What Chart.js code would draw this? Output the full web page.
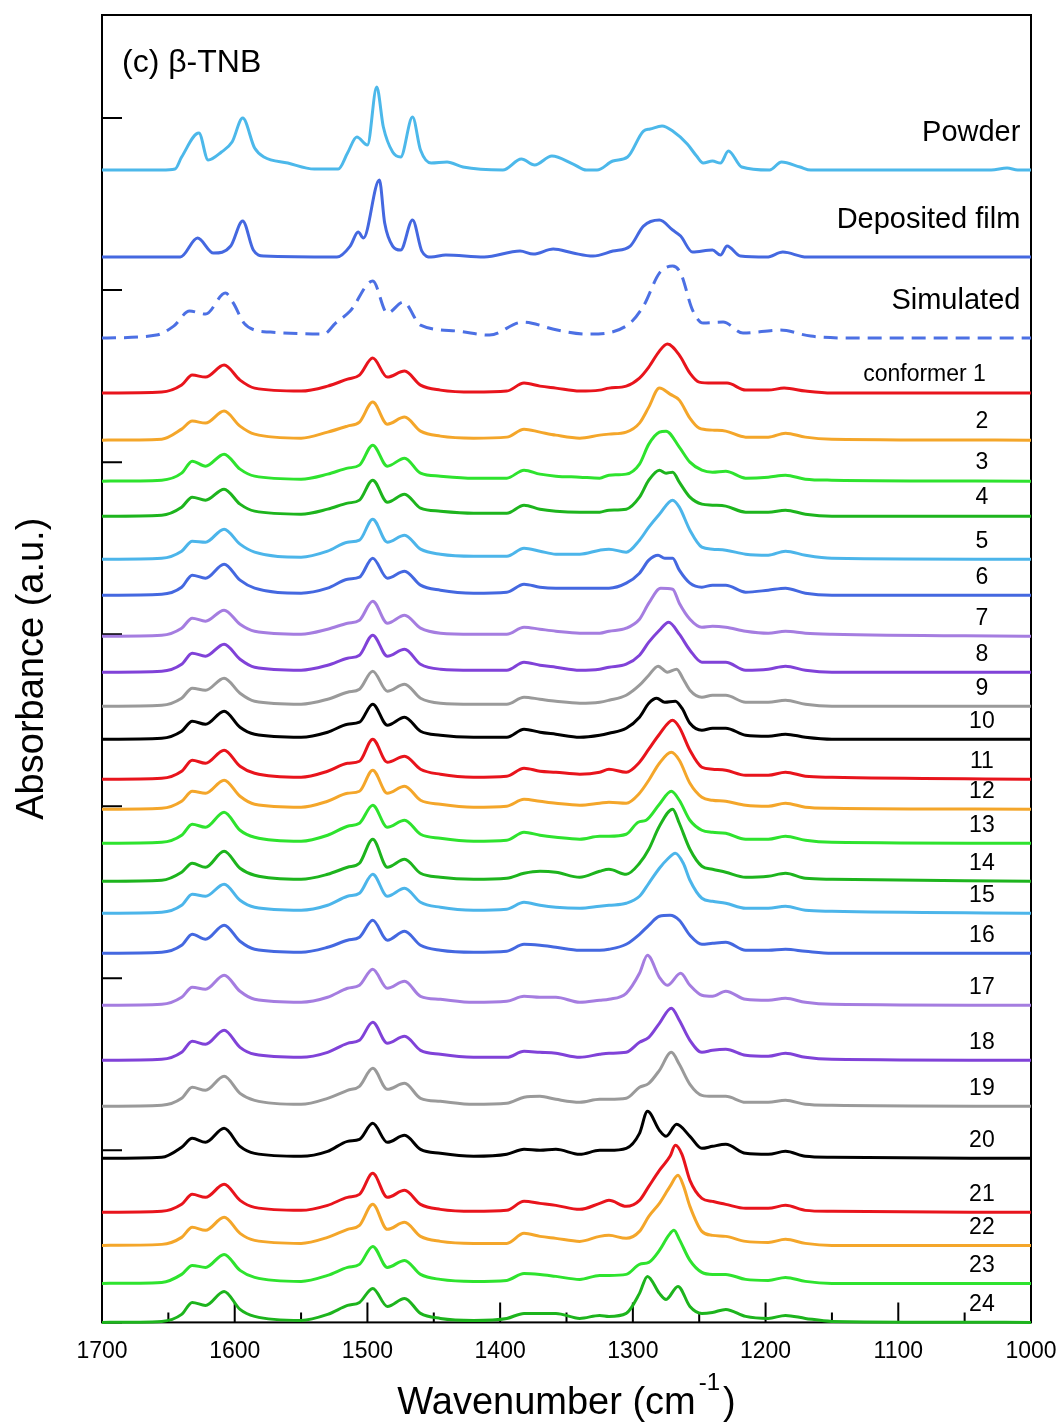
<!DOCTYPE html>
<html>
<head>
<meta charset="utf-8">
<script src="https://cdn.jsdelivr.net/npm/chart.js@4.4.1/dist/chart.umd.min.js"></script>
<style>
  html, body { margin: 0; padding: 0; background: #fff; }
</style>
</head>
<body>
<canvas id="myChart" width="1062" height="1425"></canvas>
<script>
// wavenumbers (cm-1) shared by the left half of every conformer trace
const leftWn = [1700, 1655, 1640, 1632, 1622, 1608, 1596, 1585, 1550, 1530, 1515, 1506, 1496, 1485, 1472, 1460, 1445, 1420, 1395, 1382, 1370, 1358, 1340];

// absorbance at leftWn, one row per conformer (a.u.)
const conformerLeft = [
  [0, 1, 8, 18, 16, 28, 13, 5, 2, 7, 14, 18, 35, 16, 22, 8, 3, 1, 2, 10, 7, 5, 2],
  [0, 1, 11, 19, 17, 29, 14, 6, 2, 8, 14, 18, 38, 16, 23, 9, 4, 2, 3, 11, 8, 5, 2],
  [0, 1, 8, 20, 15, 27, 12, 5, 2, 7, 13, 16, 36, 15, 23, 8, 5, 3, 3, 11, 7, 5, 4],
  [0, 1, 9, 19, 16, 27, 12, 5, 2, 7, 13, 16, 36, 14, 22, 8, 5, 3, 3, 11, 7, 5, 4],
  [0, 1, 8, 18, 17, 30, 15, 7, 2, 8, 17, 19, 40, 17, 24, 10, 5, 3, 3, 11, 8, 5, 5],
  [0, 1, 8, 20, 17, 31, 15, 7, 2, 7, 16, 18, 37, 17, 24, 10, 5, 2, 3, 11, 8, 7, 7],
  [0, 1, 8, 18, 15, 26, 12, 5, 2, 7, 13, 16, 35, 13, 21, 8, 3, 2, 2, 9, 7, 5, 3],
  [0, 1, 8, 19, 16, 28, 13, 5, 2, 7, 14, 17, 37, 16, 23, 8, 3, 2, 2, 10, 7, 5, 2],
  [0, 1, 8, 18, 16, 28, 13, 5, 2, 7, 14, 17, 35, 15, 22, 8, 3, 2, 2, 9, 7, 5, 3],
  [0, 1, 8, 18, 15, 28, 12, 5, 2, 7, 15, 17, 35, 14, 22, 8, 4, 2, 2, 10, 7, 5, 2],
  [0, 1, 8, 19, 16, 29, 13, 6, 2, 8, 16, 18, 40, 17, 23, 10, 5, 2, 3, 11, 8, 7, 5],
  [0, 1, 8, 18, 16, 29, 13, 5, 2, 8, 16, 18, 39, 16, 23, 9, 5, 2, 3, 10, 8, 6, 4],
  [0, 1, 8, 19, 16, 31, 13, 6, 2, 8, 17, 20, 38, 16, 23, 9, 5, 2, 3, 11, 8, 6, 4],
  [0, 1, 9, 18, 14, 30, 13, 6, 2, 7, 14, 18, 42, 14, 22, 8, 4, 2, 3, 8, 10, 9, 4],
  [0, 1, 8, 19, 17, 29, 13, 6, 3, 8, 17, 20, 39, 17, 25, 11, 6, 3, 4, 11, 8, 6, 5],
  [0, 1, 8, 19, 14, 28, 12, 4, 1, 6, 13, 16, 33, 13, 22, 8, 3, 1, 2, 9, 8, 6, 3],
  [0, 1, 8, 18, 16, 30, 14, 6, 3, 8, 17, 20, 36, 17, 24, 9, 6, 3, 4, 9, 8, 8, 3],
  [0, 1, 8, 19, 16, 30, 13, 6, 3, 8, 17, 20, 38, 17, 24, 10, 6, 3, 3, 9, 8, 7, 3],
  [0, 1, 8, 19, 16, 30, 13, 6, 2, 8, 16, 20, 38, 17, 23, 8, 5, 2, 3, 9, 10, 7, 4],
  [0, 1, 11, 20, 16, 30, 12, 5, 2, 7, 17, 19, 35, 16, 23, 9, 5, 2, 4, 9, 8, 9, 4],
  [0, 1, 8, 18, 15, 28, 12, 5, 2, 7, 15, 18, 39, 15, 22, 8, 3, 1, 2, 11, 9, 7, 3],
  [0, 1, 8, 18, 15, 28, 12, 5, 2, 8, 16, 20, 41, 16, 23, 9, 4, 2, 2, 12, 9, 7, 4],
  [0, 1, 9, 18, 16, 29, 13, 6, 2, 8, 16, 19, 37, 16, 23, 9, 4, 2, 3, 10, 9, 7, 4],
  [0, 1, 8, 20, 17, 31, 13, 6, 2, 8, 17, 20, 34, 16, 24, 9, 4, 2, 4, 9, 9, 9, 4]
];

// [wavenumber, absorbance] for the right half, one row per conformer
const conformerRight = [
  [[1325,3],[1318,5],[1305,7],[1295,15],[1288,26],[1280,42],[1274,49],[1265,38],[1257,20],[1250,11],[1240,10],[1229,10],[1215,3],[1198,3],[1186,5],[1170,2],[1150,0],[1000,0]],
  [[1325,5],[1318,6],[1305,8],[1295,17],[1288,33],[1280,52],[1272,46],[1265,40],[1257,22],[1250,12],[1240,10],[1230,9],[1215,3],[1198,3],[1185,7],[1170,3],[1150,1],[1000,0]],
  [[1325,3],[1318,6],[1305,7],[1295,17],[1288,37],[1280,49],[1275,50],[1265,34],[1257,19],[1248,11],[1240,9],[1230,10],[1215,3],[1198,4],[1185,6],[1170,2],[1150,1],[1000,0]],
  [[1325,4],[1318,6],[1305,7],[1295,19],[1288,36],[1280,46],[1275,43],[1270,44],[1265,34],[1257,19],[1248,12],[1240,11],[1230,10],[1215,4],[1198,4],[1185,6],[1170,2],[1150,0],[1000,0]],
  [[1325,9],[1318,10],[1305,7],[1295,19],[1288,32],[1280,45],[1270,59],[1265,52],[1257,29],[1248,12],[1240,10],[1230,9],[1215,5],[1198,4],[1185,8],[1170,4],[1150,1],[1000,0]],
  [[1325,7],[1318,7],[1305,12],[1295,22],[1288,35],[1281,40],[1276,37],[1270,37],[1265,25],[1257,12],[1248,8],[1240,10],[1230,10],[1215,3],[1198,5],[1185,7],[1170,2],[1150,0],[1000,0]],
  [[1325,3],[1318,5],[1305,8],[1295,17],[1288,33],[1279,48],[1270,47],[1265,33],[1257,17],[1248,9],[1240,10],[1230,9],[1215,5],[1198,3],[1185,5],[1170,3],[1150,2],[1000,0]],
  [[1325,3],[1318,5],[1305,8],[1295,17],[1288,30],[1280,42],[1273,50],[1265,38],[1257,22],[1248,10],[1240,10],[1230,10],[1215,2],[1198,3],[1185,6],[1170,2],[1150,0],[1000,0]],
  [[1325,4],[1318,6],[1305,11],[1295,21],[1288,31],[1281,40],[1274,34],[1267,37],[1262,27],[1257,16],[1248,9],[1240,11],[1230,11],[1215,4],[1198,4],[1185,6],[1170,2],[1150,0],[1000,0]],
  [[1325,4],[1318,6],[1305,11],[1295,22],[1288,36],[1282,41],[1276,37],[1268,38],[1263,31],[1257,16],[1248,9],[1240,11],[1230,11],[1215,4],[1198,3],[1185,5],[1170,2],[1150,0],[1000,0]],
  [[1325,7],[1318,10],[1305,7],[1295,17],[1288,30],[1280,45],[1270,59],[1265,52],[1257,29],[1248,12],[1240,10],[1230,9],[1215,4],[1198,4],[1185,7],[1170,3],[1150,2],[1000,0]],
  [[1325,6],[1318,7],[1305,6],[1295,16],[1288,29],[1280,46],[1271,57],[1265,49],[1257,26],[1248,12],[1240,9],[1230,8],[1215,4],[1198,3],[1185,6],[1170,2],[1150,1],[1000,0]],
  [[1325,7],[1318,7],[1305,9],[1296,21],[1290,23],[1280,39],[1271,52],[1265,43],[1257,23],[1248,13],[1240,11],[1230,10],[1215,4],[1198,4],[1185,7],[1170,3],[1150,1],[1000,0]],
  [[1325,10],[1318,12],[1305,7],[1295,18],[1288,32],[1280,55],[1270,72],[1265,58],[1257,32],[1248,15],[1240,12],[1230,9],[1215,4],[1198,5],[1185,8],[1170,3],[1150,2],[1000,0]],
  [[1325,7],[1318,8],[1305,10],[1295,17],[1288,30],[1280,45],[1274,54],[1268,60],[1262,50],[1257,33],[1248,15],[1240,12],[1230,10],[1215,5],[1198,5],[1185,7],[1170,3],[1150,2],[1000,0]],
  [[1325,3],[1318,4],[1305,9],[1295,19],[1288,28],[1280,37],[1272,38],[1265,33],[1257,18],[1248,9],[1240,10],[1230,11],[1215,3],[1198,3],[1185,4],[1170,2],[1150,0],[1000,0]],
  [[1325,5],[1318,6],[1305,12],[1295,32],[1289,50],[1280,28],[1274,20],[1264,32],[1257,20],[1248,10],[1240,9],[1230,14],[1215,6],[1198,5],[1185,7],[1170,3],[1150,1],[1000,0]],
  [[1325,6],[1318,7],[1305,8],[1295,18],[1288,23],[1280,37],[1271,52],[1265,40],[1257,20],[1248,8],[1240,10],[1230,11],[1215,5],[1198,4],[1185,7],[1170,3],[1150,1],[1000,0]],
  [[1325,7],[1318,7],[1305,8],[1295,19],[1288,23],[1280,36],[1271,54],[1265,42],[1257,22],[1248,11],[1240,10],[1230,10],[1215,4],[1198,4],[1185,6],[1170,2],[1150,1],[1000,0]],
  [[1325,8],[1318,8],[1305,10],[1295,25],[1289,47],[1280,28],[1275,22],[1267,34],[1257,22],[1248,10],[1240,12],[1230,14],[1215,5],[1198,4],[1185,7],[1170,2],[1150,1],[1000,0]],
  [[1325,9],[1318,12],[1305,6],[1295,12],[1288,26],[1280,42],[1272,56],[1268,67],[1263,58],[1257,32],[1248,14],[1240,11],[1230,8],[1215,4],[1198,4],[1185,7],[1170,2],[1150,1],[1000,0]],
  [[1325,9],[1318,10],[1305,7],[1295,14],[1288,29],[1280,42],[1272,59],[1266,70],[1262,60],[1257,39],[1248,14],[1240,10],[1230,9],[1215,4],[1198,3],[1185,6],[1170,2],[1150,0],[1000,0]],
  [[1325,8],[1318,8],[1305,9],[1295,19],[1288,21],[1280,33],[1273,48],[1269,53],[1265,44],[1257,23],[1248,11],[1240,9],[1230,9],[1215,4],[1198,3],[1185,6],[1170,2],[1150,0],[1000,0]],
  [[1325,7],[1318,6],[1305,9],[1295,29],[1289,46],[1280,29],[1275,23],[1266,36],[1257,16],[1248,9],[1240,10],[1230,13],[1215,6],[1198,4],[1185,7],[1170,4],[1150,1],[1000,0]]
];

// measured spectra, [wavenumber, absorbance]
const powder = [[1700,0],[1655,0],[1645,1],[1640,13],[1627,37],[1620,10],[1610,18],[1602,28],[1594,52],[1585,22],[1578,13],[1560,7],[1540,1],[1522,1],[1515,17],[1508,33],[1500,25],[1493,83],[1488,43],[1481,18],[1475,13],[1466,53],[1460,20],[1452,7],[1440,8],[1428,3],[1398,0],[1384,11],[1374,5],[1361,14],[1345,6],[1335,0],[1327,0],[1315,9],[1304,13],[1292,39],[1287,41],[1278,44],[1270,39],[1259,26],[1252,14],[1247,7],[1240,9],[1234,7],[1228,19],[1218,3],[1197,0],[1188,8],[1174,3],[1166,0],[1030,0],[1018,2],[1010,0],[1000,0]];
const depositedFilm = [[1700,0],[1641,0],[1628,19],[1616,4],[1603,11],[1594,36],[1586,7],[1578,1],[1523,0],[1513,11],[1507,25],[1503,19],[1491,77],[1487,34],[1481,11],[1475,7],[1466,37],[1459,6],[1452,0],[1441,2],[1412,0],[1385,6],[1375,3],[1360,8],[1345,4],[1330,1],[1315,6],[1302,11],[1292,31],[1280,37],[1270,27],[1264,21],[1255,5],[1240,7],[1234,2],[1229,11],[1219,1],[1199,0],[1187,5],[1169,0],[1000,0]];
const simulated = [[1700,0],[1659,3],[1646,12],[1634,27],[1622,24],[1607,45],[1601,35],[1593,15],[1585,8],[1573,6],[1533,4],[1524,15],[1513,27],[1496,57],[1485,25],[1473,36],[1460,13],[1432,7],[1408,3],[1383,16],[1357,8],[1334,4],[1304,13],[1292,32],[1280,65],[1270,72],[1264,65],[1255,28],[1247,15],[1232,16],[1217,5],[1189,8],[1166,2],[1129,0],[1000,0]];

// vertical offsets that stack the traces
const topOffsets = [1152, 1065, 984];
const conformerOffsets = [929, 882, 841, 806, 763, 727, 686, 650, 616, 583, 543, 513, 479, 441, 409, 369, 317, 262, 216, 164, 110, 77, 39, 0];
const topNames = ['Powder', 'Deposited film', 'Simulated'];

const palette = ['#e8141c', '#f4a62a', '#2ee32e', '#1db41d', '#4cb5ea', '#4468e0', '#a57de0', '#8042d8', '#9a9a9a', '#000000'];
const FONT = '"Liberation Sans", Arial, sans-serif';

function stack(points, offset) {
  return points.map(p => ({ x: p[0], y: p[1] + offset }));
}

const datasets = [
  { label: topNames[0], data: stack(powder, topOffsets[0]), borderColor: '#4cb8ea' },
  { label: topNames[1], data: stack(depositedFilm, topOffsets[1]), borderColor: '#4468e0' },
  { label: topNames[2], data: stack(simulated, topOffsets[2]), borderColor: '#4c70e4', borderDash: [14, 8] }
];
conformerLeft.forEach((row, i) => {
  const pts = leftWn.map((w, k) => [w, row[k]]).concat(conformerRight[i]);
  datasets.push({
    label: i === 0 ? 'conformer 1' : String(i + 1),
    data: stack(pts, conformerOffsets[i]),
    borderColor: palette[i % palette.length]
  });
});
datasets.forEach(d => {
  d.borderWidth = 3;
  d.pointRadius = 0;
  d.fill = false;
  d.clip = false;
  d.cubicInterpolationMode = 'monotone';
});

// frame with inward ticks, drawn under the traces
const framePlugin = {
  id: 'frame',
  beforeDatasetsDraw(chart) {
    const { ctx, chartArea: a, scales: { x, y } } = chart;
    ctx.save();
    ctx.strokeStyle = '#000';
    ctx.lineWidth = 2;
    ctx.strokeRect(a.left, a.top, a.right - a.left, a.bottom - a.top);
    ctx.beginPath();
    for (let v = x.min; v <= x.max; v += 50) {
      const px = x.getPixelForValue(v);
      const len = v % 100 === 0 ? 20 : 10;
      ctx.moveTo(px, a.bottom);
      ctx.lineTo(px, a.bottom - len);
    }
    y.ticks.forEach(t => {
      const py = y.getPixelForValue(t.value);
      ctx.moveTo(a.left, py);
      ctx.lineTo(a.left + 20, py);
    });
    ctx.stroke();
    ctx.restore();
  },
  afterDraw(chart) {
    const { ctx, chartArea: a, scales: { x, y } } = chart;
    ctx.save();
    ctx.fillStyle = '#000';

    // panel tag
    ctx.font = '32px ' + FONT;
    ctx.textAlign = 'left';
    ctx.textBaseline = 'alphabetic';
    ctx.fillText('(c) \u03B2-TNB', a.left + 20, a.top + 57);

    // trace names
    ctx.textBaseline = 'middle';
    ctx.textAlign = 'right';
    ctx.font = '29px ' + FONT;
    topNames.forEach((name, i) => {
      ctx.fillText(name, x.getPixelForValue(1008), y.getPixelForValue(topOffsets[i] + 37));
    });
    ctx.font = '23px ' + FONT;
    conformerOffsets.forEach((off, i) => {
      const py = y.getPixelForValue(off + 18);
      if (i === 0) {
        ctx.textAlign = 'right';
        ctx.fillText('conformer 1', x.getPixelForValue(1034), py);
      } else {
        ctx.textAlign = 'center';
        ctx.fillText(String(i + 1), x.getPixelForValue(1037), py);
      }
    });

    // x axis title with superscript
    const base = a.bottom + 92;
    ctx.textBaseline = 'alphabetic';
    ctx.textAlign = 'left';
    ctx.font = '38px ' + FONT;
    const mainW = ctx.measureText('Wavenumber (cm').width;
    const closeW = ctx.measureText(')').width;
    ctx.font = '24px ' + FONT;
    const supW = ctx.measureText('-1').width;
    const total = mainW + 3 + supW + 3 + closeW;
    let cx = (a.left + a.right) / 2 - total / 2;
    ctx.font = '38px ' + FONT;
    ctx.fillText('Wavenumber (cm', cx, base);
    cx += mainW + 3;
    ctx.font = '24px ' + FONT;
    ctx.fillText('-1', cx, base - 24);
    cx += supW + 3;
    ctx.font = '38px ' + FONT;
    ctx.fillText(')', cx, base);

    // y axis title
    ctx.translate(43, (a.top + a.bottom) / 2);
    ctx.rotate(-Math.PI / 2);
    ctx.textAlign = 'center';
    ctx.fillText('Absorbance (a.u.)', 0, 0);
    ctx.restore();
  }
};

const ctx = document.getElementById('myChart').getContext('2d');
const chart = new Chart(ctx, {
  type: 'line',
  data: { datasets },
  options: {
    responsive: false,
    animation: false,
    events: [],
    layout: { padding: { left: 102, right: 31, top: 15, bottom: 57 } },
    plugins: { legend: { display: false }, tooltip: { enabled: false } },
    scales: {
      x: {
        type: 'linear',
        min: 1000,
        max: 1700,
        reverse: true,
        ticks: {
          stepSize: 100, color: '#000', padding: 3, maxRotation: 0,
          font: { family: FONT, size: 23 },
          callback: v => String(v)
        },
        grid: { display: false, drawTicks: true, tickLength: 12 },
        border: { display: false }
      },
      y: {
        display: false,
        min: 0,
        max: 1307,
        ticks: { stepSize: 172 }
      }
    }
  },
  plugins: [framePlugin]
});
</script>
</body>
</html>
